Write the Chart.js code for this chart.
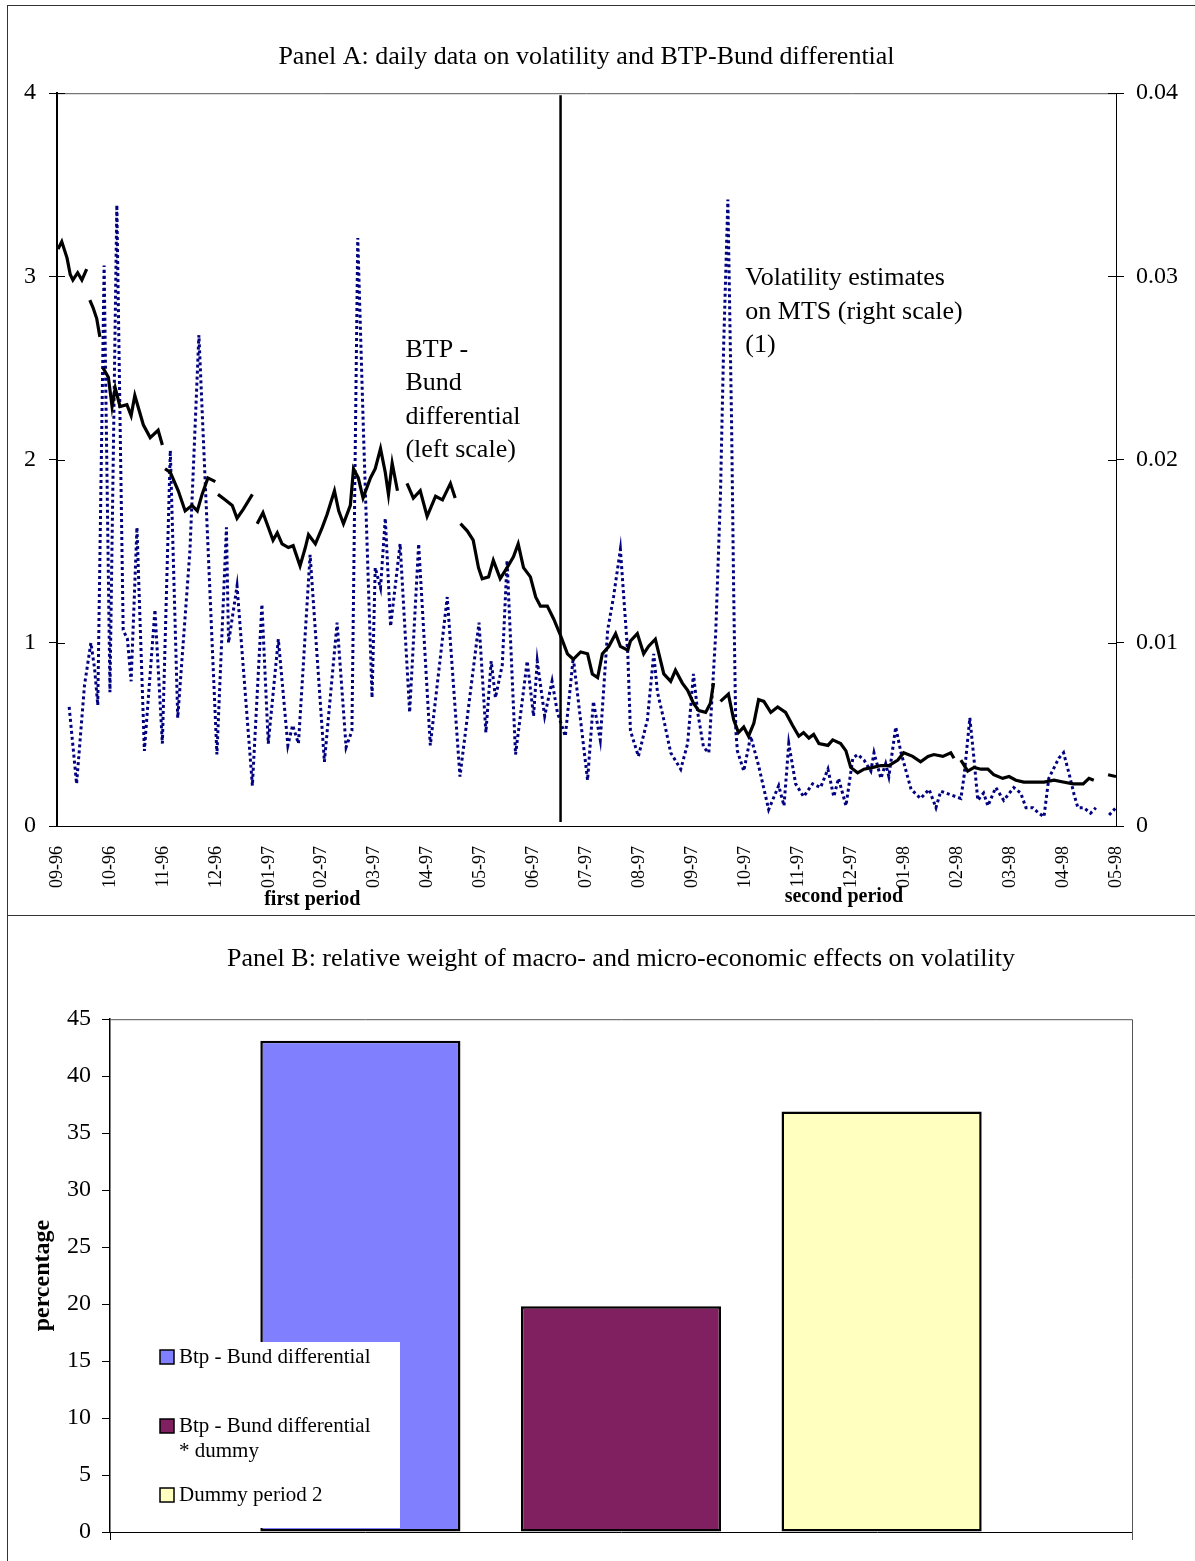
<!DOCTYPE html>
<html>
<head>
<meta charset="utf-8">
<title>Volatility and BTP-Bund differential</title>
<script src="https://cdn.jsdelivr.net/npm/chart.js@4.4.1/dist/chart.umd.min.js"></script>
<style>
  html, body { margin: 0; background: #fff; overflow: hidden; }
  .frame { position: absolute; left: 7px; top: 5px; width: 1190px; height: 1560px; border-left: 1px solid #333; border-top: 1px solid #333; }
  .divider { position: absolute; left: 8px; top: 915px; width: 1187px; border-top: 1px solid #333; }
  .panel { position: absolute; left: 8px; width: 1187px; }
  #boxA { top: 6px; height: 909px; }
  #boxB { top: 916px; height: 645px; }
</style>
</head>
<body>
<div class="frame"></div>
<div class="divider"></div>
<div class="panel" id="boxA"><canvas id="panelA"></canvas></div>
<div class="panel" id="boxB"><canvas id="panelB"></canvas></div>
<script>
Chart.defaults.font.family = "'Liberation Serif', 'Times New Roman', serif";
Chart.defaults.color = '#000';

// Panel A: x positions are months counted from 09-96
const monthLabels = ['09-96', '10-96', '11-96', '12-96', '01-97', '02-97', '03-97', '04-97', '05-97', '06-97',
  '07-97', '08-97', '09-97', '10-97', '11-97', '12-97', '01-98', '02-98', '03-98', '04-98', '05-98'];
const periodBreak = 9.51;
const periodNames = ['first period', 'second period'];

// BTP-Bund differential (left scale), null = gap in the series
const spreadX = [0.02, 0.09, 0.19, 0.25, 0.30, 0.39, 0.47, 0.56, 0.59, 0.62, 0.68, 0.75, 0.81, 0.84, 0.87, 0.97,
  1.04, 1.10, 1.19, 1.32, 1.40, 1.47, 1.63, 1.76, 1.91, 1.99, 2.02, 2.04, 2.14, 2.29, 2.42, 2.55, 2.65, 2.74,
  2.85, 2.99, 3.02, 3.04, 3.18, 3.31, 3.40, 3.52, 3.69, 3.74, 3.78, 3.89, 4.08, 4.16, 4.25, 4.37, 4.46, 4.59,
  4.69, 4.75, 4.88, 5.01, 5.10, 5.24, 5.32, 5.41, 5.54, 5.60, 5.69, 5.78, 5.92, 6.01, 6.11, 6.20, 6.26, 6.33,
  6.43, 6.50, 6.61, 6.73, 6.86, 6.99, 7.15, 7.28, 7.43, 7.52, 7.57, 7.62, 7.75, 7.86, 7.96, 8.03, 8.15, 8.24,
  8.37, 8.50, 8.62, 8.71, 8.81, 8.94, 9.04, 9.13, 9.26, 9.38, 9.51, 9.64, 9.75, 9.89, 10.02, 10.11, 10.21,
  10.30, 10.42, 10.55, 10.64, 10.78, 10.83, 10.96, 11.08, 11.17, 11.30, 11.46, 11.59, 11.68, 11.81, 11.91,
  12.02, 12.12, 12.25, 12.34, 12.40, 12.47, 12.53, 12.68, 12.78, 12.87, 12.97, 13.06, 13.16, 13.25, 13.35,
  13.48, 13.61, 13.76, 13.89, 14.01, 14.10, 14.20, 14.29, 14.39, 14.56, 14.65, 14.80, 14.90, 14.99, 15.12,
  15.24, 15.41, 15.56, 15.71, 15.88, 15.99, 16.16, 16.31, 16.45, 16.56, 16.73, 16.88, 16.94, 17.00, 17.07,
  17.20, 17.32, 17.45, 17.58, 17.69, 17.86, 17.98, 18.11, 18.26, 18.45, 18.64, 18.83, 19.00, 19.19, 19.38,
  19.49, 19.58, 19.72, 19.85, 20.00];
const spreadY = [3.15, 3.19, 3.10, 3.01, 2.98, 3.02, 2.98, 3.04, null, 2.87, 2.83, 2.77, 2.67, null, 2.50, 2.45,
  2.29, 2.39, 2.29, 2.30, 2.24, 2.35, 2.19, 2.12, 2.16, 2.08, null, 1.95, 1.93, 1.83, 1.72, 1.75, 1.72, 1.81,
  1.90, 1.88, null, 1.81, 1.78, 1.75, 1.68, 1.73, 1.81, null, 1.65, 1.71, 1.56, 1.60, 1.54, 1.52, 1.53, 1.42,
  1.52, 1.59, 1.54, 1.63, 1.70, 1.83, 1.72, 1.65, 1.75, 1.95, 1.90, 1.79, 1.90, 1.95, 2.06, 1.93, 1.81, 1.98,
  1.83, null, 1.87, 1.79, 1.83, 1.69, 1.80, 1.78, 1.87, 1.79, null, 1.65, 1.61, 1.56, 1.41, 1.35, 1.36, 1.45,
  1.35, 1.41, 1.47, 1.54, 1.41, 1.36, 1.25, 1.20, 1.20, 1.13, 1.04, 0.94, 0.91, 0.95, 0.94, 0.83, 0.81,
  0.94, 0.98, 1.05, 0.98, 0.96, 1.01, 1.05, 0.94, 0.98, 1.02, 0.83, 0.79, 0.85, 0.78, 0.74,
  0.67, 0.63, 0.62, 0.67, 0.78, null, 0.68, 0.72, 0.58, 0.51, 0.54, 0.49, 0.56, 0.69, 0.68,
  0.62, 0.65, 0.62, 0.55, 0.49, 0.51, 0.48, 0.50, 0.45, 0.44, 0.47, 0.45, 0.41, 0.32, 0.29,
  0.31, 0.32, 0.33, 0.33, 0.36, 0.40, 0.38, 0.35, 0.38, 0.39, 0.38, 0.40, 0.37, null, 0.36,
  0.30, 0.32, 0.31, 0.31, 0.28, 0.26, 0.27, 0.25, 0.24, 0.24, 0.24, 0.25, 0.24, 0.23, 0.23,
  0.26, 0.25, null, 0.28, 0.27];

// Volatility estimates on MTS (right scale)
const volX = [0.23, 0.37, 0.52, 0.64, 0.71, 0.77, 0.89, 1.00, 1.13, 1.25, 1.33, 1.40, 1.51, 1.65, 1.85, 1.99,
  2.14, 2.28, 2.51, 2.68, 3.02, 3.20, 3.24, 3.40, 3.69, 3.87, 3.99, 4.18, 4.36, 4.45, 4.56, 4.78, 5.05, 5.29,
  5.46, 5.57, 5.68, 5.79, 5.95, 6.01, 6.11, 6.20, 6.30, 6.48, 6.66, 6.83, 7.05, 7.37, 7.61, 7.97, 8.10, 8.20,
  8.28, 8.41, 8.50, 8.66, 8.88, 9.00, 9.07, 9.21, 9.35, 9.45, 9.60, 9.75, 10.02, 10.13, 10.26, 10.40, 10.51,
  10.64, 10.78, 10.83, 10.98, 11.15, 11.27, 11.34, 11.46, 11.59, 11.78, 11.91, 12.02, 12.10, 12.21, 12.31,
  12.44, 12.53, 12.59, 12.67, 12.74, 12.78, 12.82, 12.85, 12.97, 13.10, 13.25, 13.44, 13.63, 13.73, 13.82,
  13.95, 14.10, 14.27, 14.42, 14.56, 14.67, 14.76, 14.90, 15.03, 15.12, 15.24, 15.37, 15.43, 15.56, 15.65,
  15.71, 15.84, 15.94, 16.13, 16.31, 16.47, 16.60, 16.69, 16.88, 17.07, 17.13, 17.24, 17.32, 17.39, 17.50,
  17.58, 17.73, 17.88, 18.07, 18.20, 18.30, 18.43, 18.54, 18.64, 18.73, 18.92, 19.01, 19.11, 19.21, 19.28,
  19.39, 19.52, 19.62, 19.75, 19.87, 20.00];
const volY = [0.0065, 0.0023, 0.0077, 0.0100, 0.0086, 0.0066, 0.0306, 0.0073, 0.0339, 0.0107, 0.0102, 0.0079,
  0.0163, 0.0041, 0.0118, 0.0045, 0.0205, 0.0059, 0.0150, 0.0268, 0.0039, 0.0163, 0.0100, 0.0131, 0.0022,
  0.0121, 0.0045, 0.0102, 0.0044, 0.0055, 0.0045, 0.0148, 0.0035, 0.0111, 0.0043, 0.0052, 0.0321, 0.0213,
  0.0070, 0.0141, 0.0130, 0.0168, 0.0109, 0.0154, 0.0062, 0.0154, 0.0044, 0.0125, 0.0027, 0.0111, 0.0051,
  0.0090, 0.0070, 0.0088, 0.0145, 0.0039, 0.0090, 0.0060, 0.0090, 0.0060, 0.0079, 0.0062, 0.0049, 0.0092,
  0.0025, 0.0068, 0.0047, 0.0107, 0.0125, 0.0151, 0.0094, 0.0052, 0.0038, 0.0058, 0.0094, 0.0073, 0.0058,
  0.0040, 0.0031, 0.0045, 0.0083, 0.0062, 0.0043, 0.0040, 0.0105, 0.0181, 0.0262, 0.0342, 0.0220, 0.0127,
  0.0052, 0.0041, 0.0030, 0.0049, 0.0033, 0.0009, 0.0022, 0.0011, 0.0045, 0.0023, 0.0016, 0.0023, 0.0021,
  0.0031, 0.0016, 0.0026, 0.0011, 0.0037, 0.0039, 0.0036, 0.0030, 0.0040, 0.0026, 0.0034, 0.0027, 0.0054,
  0.0040, 0.0020, 0.0015, 0.0020, 0.0010, 0.0019, 0.0017, 0.0015, 0.0027, 0.0059, 0.0036, 0.0014, 0.0018,
  0.0011, 0.0021, 0.0014, 0.0021, 0.0018, 0.0010, 0.0010, 0.0007, 0.0005, 0.0026, 0.0037, 0.0040, 0.0029,
  0.0017, 0.0010, 0.0010, 0.0007, 0.0010, null, 0.0006, 0.0010];

// Panel B
const seriesNames = ['Btp - Bund differential', 'Btp - Bund differential * dummy', 'Dummy period 2'];
const legendLines = [['Btp - Bund differential'], ['Btp - Bund differential', '* dummy'], ['Dummy period 2']];
const seriesShares = [43.1, 19.8, 36.9];

const toPoints = (xs, ys) => xs.map((x, i) => ({ x: x, y: ys[i] }));

// extra drawing for panel A: top frame, inner ticks, period break, notes
const panelAExtras = {
  id: 'panelAExtras',
  afterDatasetsDraw(chart, args, opts) {
    const { ctx, chartArea: a, scales: { x, y, y1 } } = chart;
    ctx.save();
    ctx.strokeStyle = '#555';
    ctx.lineWidth = 1;
    ctx.beginPath();
    ctx.moveTo(a.left, a.top + 0.5);
    ctx.lineTo(a.right, a.top + 0.5);
    ctx.stroke();

    ctx.strokeStyle = '#000';
    ctx.beginPath();
    y.ticks.forEach(t => {
      const py = Math.round(y.getPixelForValue(t.value)) + 0.5;
      ctx.moveTo(a.left, py);
      ctx.lineTo(a.left + 8, py);
    });
    y1.ticks.forEach(t => {
      const py = Math.round(y1.getPixelForValue(t.value)) + 0.5;
      ctx.moveTo(a.right - 8, py);
      ctx.lineTo(a.right, py);
    });
    ctx.stroke();

    const bx = x.getPixelForValue(opts.breakAt);
    ctx.lineWidth = 2.5;
    ctx.beginPath();
    ctx.moveTo(bx, a.top + 2);
    ctx.lineTo(bx, a.bottom - 4);
    ctx.stroke();

    ctx.fillStyle = '#000';
    ctx.textAlign = 'left';
    ctx.textBaseline = 'middle';
    ctx.font = opts.noteFont;
    opts.notes.forEach(n => {
      const nx = x.getPixelForValue(n.x);
      const ny = y.getPixelForValue(n.y);
      n.lines.forEach((line, i) => ctx.fillText(line, nx, ny + i * opts.noteLineHeight));
    });

    ctx.textAlign = 'center';
    ctx.font = opts.periodFont;
    opts.periods.forEach((p, i) => {
      ctx.fillText(periodNames[i], x.getPixelForValue(p.x), a.bottom + p.dy);
    });
    ctx.restore();
  }
};

new Chart(document.getElementById('panelA'), {
  type: 'line',
  data: {
    datasets: [
      {
        label: 'BTP - Bund differential (left scale)',
        data: toPoints(spreadX, spreadY),
        yAxisID: 'y',
        borderColor: '#000',
        borderWidth: 3.2,
        pointRadius: 0,
        tension: 0,
        order: 1,
      },
      {
        label: 'Volatility estimates on MTS (right scale) (1)',
        data: toPoints(volX, volY),
        yAxisID: 'y1',
        borderColor: '#000080',
        borderWidth: 3,
        borderDash: [3, 3],
        pointRadius: 0,
        tension: 0,
        order: 2,
      },
    ],
  },
  options: {
    responsive: true,
    maintainAspectRatio: false,
    animation: false,
    layout: { padding: 0 },
    plugins: {
      legend: { display: false },
      tooltip: { enabled: false },
      title: {
        display: true,
        text: 'Panel A: daily data on volatility and BTP-Bund differential',
        fullSize: false,
        font: { size: 26, weight: 'normal' },
        padding: { top: 36, bottom: 20 },
      },
      panelAExtras: {
        breakAt: periodBreak,
        noteFont: "26px 'Liberation Serif'",
        noteLineHeight: 33.5,
        notes: [
          { x: 6.58, y: 2.6, lines: ['BTP -', 'Bund', 'differential', '(left scale)'] },
          { x: 13.0, y: 2.99, lines: ['Volatility estimates', 'on MTS (right scale)', '(1)'] },
        ],
        periodFont: "bold 20px 'Liberation Serif'",
        periods: [{ x: 4.82, dy: 74 }, { x: 14.86, dy: 71 }],
      },
    },
    scales: {
      x: {
        type: 'linear',
        min: 0,
        max: 20,
        afterFit: (s) => { s.height = 89; },
        grid: { display: false },
        border: { display: true, color: '#000', width: 1 },
        ticks: {
          stepSize: 1,
          autoSkip: false,
          minRotation: 90,
          maxRotation: 90,
          padding: 12,
          font: { size: 18 },
          callback: (v) => monthLabels[Math.round(v)],
        },
      },
      y: {
        position: 'left',
        min: 0,
        max: 4,
        afterFit: (s) => { s.width = 49; },
        grid: { drawOnChartArea: false, tickLength: 8, color: '#000' },
        border: { display: true, color: '#000', width: 2 },
        ticks: { stepSize: 1, padding: 13, font: { size: 24 } },
      },
      y1: {
        position: 'right',
        min: 0,
        max: 0.04,
        afterFit: (s) => { s.width = 79; },
        grid: { drawOnChartArea: false, tickLength: 8, color: '#000' },
        border: { display: true, color: '#000', width: 1 },
        ticks: {
          stepSize: 0.01,
          padding: 12,
          font: { size: 24 },
          callback: (v) => (v === 0 ? '0' : v.toFixed(2)),
        },
      },
    },
  },
  plugins: [panelAExtras],
});

// panel B: frame lines and the boxed legend over the first bar
const panelBLegend = {
  id: 'panelBLegend',
  afterDraw(chart, args, opts) {
    const { ctx, chartArea: a } = chart;
    ctx.save();
    ctx.strokeStyle = '#555';
    ctx.lineWidth = 1;
    ctx.beginPath();
    ctx.moveTo(a.left, a.top + 0.5);
    ctx.lineTo(a.right + 0.5, a.top + 0.5);
    ctx.lineTo(a.right + 0.5, a.bottom + 8);
    ctx.stroke();

    const bx = a.left + opts.left;
    const by = a.bottom - opts.bottom - opts.height;
    ctx.fillStyle = '#fff';
    ctx.fillRect(bx, by, opts.width, opts.height);
    ctx.font = opts.font;
    ctx.textAlign = 'left';
    ctx.textBaseline = 'middle';
    chart.data.datasets.forEach((ds, i) => {
      const rows = opts.rows[i];
      ctx.fillStyle = ds.backgroundColor;
      ctx.fillRect(bx + 15, by + rows[0] - 7, 14, 14);
      ctx.strokeStyle = '#000';
      ctx.lineWidth = 1.5;
      ctx.strokeRect(bx + 15, by + rows[0] - 7, 14, 14);
      ctx.fillStyle = '#000';
      legendLines[i].forEach((line, j) => ctx.fillText(line, bx + 34, by + rows[j]));
    });
    ctx.restore();
  }
};

const barColors = ['#8080ff', '#802060', '#ffffc0'];

new Chart(document.getElementById('panelB'), {
  type: 'bar',
  data: {
    labels: [''],
    datasets: seriesNames.map((name, i) => ({
      label: name,
      data: [seriesShares[i]],
      backgroundColor: barColors[i],
      borderColor: '#000',
      borderWidth: 2.5,
      borderSkipped: false,
      barPercentage: 0.768,
      categoryPercentage: 0.765,
    })),
  },
  options: {
    responsive: true,
    maintainAspectRatio: false,
    animation: false,
    layout: { padding: { left: 0, right: 63, top: 0, bottom: 0 } },
    plugins: {
      legend: { display: false },
      tooltip: { enabled: false },
      title: {
        display: true,
        text: 'Panel B: relative weight of macro- and micro-economic effects on volatility',
        fullSize: false,
        font: { size: 26, weight: 'normal' },
        padding: { top: 28, bottom: 44 },
      },
      panelBLegend: {
        left: 35,
        bottom: 4,
        width: 255,
        height: 186,
        font: "21px 'Liberation Serif'",
        rows: [[15], [84, 109], [153]],
      },
    },
    scales: {
      x: {
        afterFit: (s) => { s.height = 29; },
        grid: { drawOnChartArea: false, offset: true, tickLength: 8, color: '#000' },
        border: { display: true, color: '#000', width: 1 },
        ticks: { display: false },
      },
      y: {
        min: 0,
        max: 45,
        afterFit: (s) => { s.width = 102; },
        grid: { drawOnChartArea: false, tickLength: 8, color: '#000' },
        border: { display: true, color: '#000', width: 1.5 },
        ticks: { stepSize: 5, padding: 11, font: { size: 24 } },
        title: {
          display: true,
          text: 'percentage',
          font: { size: 24, weight: 'bold' },
          padding: { top: 20, bottom: 0 },
        },
      },
    },
  },
  plugins: [panelBLegend],
});
</script>
</body>
</html>
